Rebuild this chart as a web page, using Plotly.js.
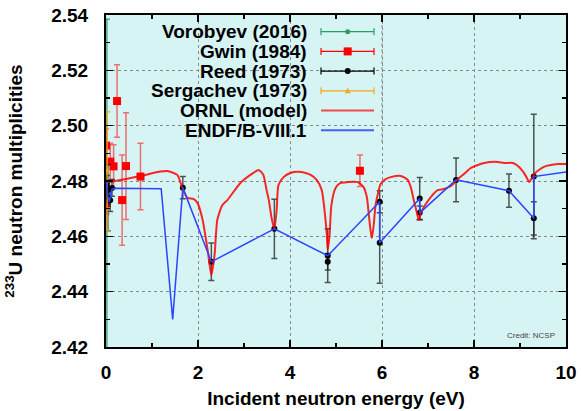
<!DOCTYPE html>
<html>
<head>
<meta charset="utf-8">
<script src="https://cdn.plot.ly/plotly-3.0.1.min.js"></script>
<style>
  html, body { margin: 0; padding: 0; background: #fff; }
  #chart { width: 581px; height: 411px; }
</style>
</head>
<body>
<div id="chart"></div>
<script>
// ORNL resonance model of nu-bar for U-233
const ornlE = [0.0, 0.20, 0.75, 1.18, 1.33, 1.55, 1.66, 1.77, 1.90, 1.99, 2.10, 2.21, 2.29, 2.36, 2.42, 2.53, 2.64, 2.92, 3.14, 3.32, 3.42, 3.49, 3.54, 3.60, 3.66, 3.71, 3.75, 3.86, 4.01, 4.17, 4.34, 4.45, 4.58, 4.69, 4.75, 4.80, 4.82, 4.86, 4.90, 4.99, 5.10, 5.25, 5.47, 5.60, 5.67, 5.71, 5.75, 5.78, 5.82, 5.86, 5.91, 5.97, 6.08, 6.19, 6.41, 6.56, 6.63, 6.69, 6.76, 6.80, 6.84, 6.91, 7.06, 7.21, 7.34, 7.50, 7.65, 7.78, 7.93, 8.22, 8.52, 8.65, 8.85, 8.98, 9.07, 9.14, 9.20, 9.26, 9.33, 9.52, 9.83, 10.0];
const ornlNu = [2.4795, 2.4800, 2.4818, 2.4834, 2.4836, 2.4822, 2.4775, 2.4739, 2.4735, 2.4720, 2.4660, 2.4550, 2.4460, 2.4533, 2.4660, 2.4713, 2.4731, 2.4793, 2.4822, 2.4840, 2.4822, 2.4768, 2.4731, 2.4666, 2.4627, 2.4695, 2.4786, 2.4814, 2.4829, 2.4833, 2.4829, 2.4822, 2.4804, 2.4767, 2.4695, 2.4605, 2.4550, 2.4605, 2.4713, 2.4775, 2.4793, 2.4796, 2.4796, 2.4778, 2.4742, 2.4684, 2.4623, 2.4594, 2.4641, 2.4713, 2.4753, 2.4789, 2.4807, 2.4814, 2.4818, 2.4804, 2.4775, 2.4731, 2.4684, 2.4659, 2.4681, 2.4706, 2.4742, 2.4767, 2.4771, 2.4782, 2.4807, 2.4825, 2.4847, 2.4865, 2.4869, 2.4865, 2.4865, 2.4851, 2.4833, 2.4814, 2.4796, 2.4811, 2.4829, 2.4851, 2.4861, 2.4861];

// ENDF/B-VIII.1 evaluation
const endfE = [0.0, 0.02, 0.04, 0.07, 0.10, 0.13, 0.20, 1.20, 1.45, 1.67, 2.29, 3.66, 4.82, 5.95, 5.95, 6.82, 6.82, 7.61, 8.76, 9.30, 9.30, 10.0];
const endfNu = [2.4800, 2.4790, 2.4745, 2.4725, 2.4745, 2.4770, 2.4774, 2.4772, 2.4300, 2.4776, 2.4508, 2.4627, 2.4530, 2.4725, 2.4577, 2.4737, 2.4685, 2.4804, 2.4765, 2.4665, 2.4816, 2.4833];

// Reed (1973)
const reedE = [0.005, 0.02, 0.04, 0.06, 0.09, 0.13, 1.67, 2.29, 3.66, 4.82, 4.82, 5.95, 5.95, 6.82, 6.82, 7.61, 8.76, 9.30, 9.30];
const reedNu = [2.4760, 2.4790, 2.4740, 2.4770, 2.4730, 2.4775, 2.4776, 2.4508, 2.4627, 2.4530, 2.4508, 2.4725, 2.4577, 2.4737, 2.4685, 2.4804, 2.4765, 2.4816, 2.4665];
const reedErr = [0.004, 0.003, 0.012, 0.003, 0.004, 0.003, 0.0040, 0.0068, 0.0107, 0.0097, 0.0030, 0.0040, 0.0147, 0.0076, 0.0025, 0.0079, 0.0060, 0.0225, 0.0060];

// Gwin (1984)
const gwinE = [0.0, 0.015, 0.094, 0.165, 0.24, 0.35, 0.435, 0.75, 5.52];
const gwinNu = [2.4928, 2.4720, 2.4870, 2.4853, 2.5089, 2.4731, 2.4854, 2.4816, 2.4837];
const gwinErr = [0.006, 0.004, 0.0066, 0.0078, 0.0131, 0.0163, 0.0193, 0.0120, 0.0057];

// Sergachev (1973)
const sergE = [0.025];
const sergNu = [2.4835];
const sergErr = [0.0215];

// Vorobyev (2016)
const voroE = [0.02];
const voroNu = [2.478];
const voroErr = [0.0605];

const legendNames = ['Vorobyev (2016)', 'Gwin (1984)', 'Reed (1973)', 'Sergachev (1973)', 'ORNL (model)', 'ENDF/B-VIII.1'];

const C_GREEN = '#2e9b62';
const C_RED = '#ff0000';
const C_BLACK = '#000000';
const C_ORANGE = '#f2a81d';
const C_BLUE = '#2a45ff';
const PLOT_BG = '#d6f4f4';

const FONT = 'Liberation Sans, Arial, Helvetica, sans-serif';

const traces = [
  {
    x: voroE, y: voroNu, type: 'scatter', mode: 'markers', name: legendNames[0],
    marker: { color: C_GREEN, size: 5, symbol: 'circle' },
    error_y: { type: 'data', array: voroErr, visible: true, color: C_GREEN, thickness: 1.2, width: 3 }
  },
  {
    x: gwinE, y: gwinNu, type: 'scatter', mode: 'markers', name: legendNames[1],
    marker: { color: C_RED, size: 8, symbol: 'square' },
    error_y: { type: 'data', array: gwinErr, visible: true, color: 'rgba(255,0,0,0.55)', thickness: 1.5, width: 3 }
  },
  {
    x: reedE, y: reedNu, type: 'scatter', mode: 'markers', name: legendNames[2],
    marker: { color: C_BLACK, size: 6, symbol: 'circle' },
    error_y: { type: 'data', array: reedErr, visible: true, color: 'rgba(30,30,30,0.75)', thickness: 1.5, width: 3 }
  },
  {
    x: sergE, y: sergNu, type: 'scatter', mode: 'markers', name: legendNames[3],
    marker: { color: C_ORANGE, size: 6, symbol: 'triangle-up' },
    error_y: { type: 'data', array: sergErr, visible: true, color: C_ORANGE, thickness: 1.2, width: 3 }
  },
  {
    x: ornlE, y: ornlNu, type: 'scatter', mode: 'lines', name: legendNames[4],
    line: { color: 'rgba(255,0,0,0.85)', width: 2, shape: 'spline', smoothing: 0.6 }
  },
  {
    x: endfE, y: endfNu, type: 'scatter', mode: 'lines', name: legendNames[5],
    line: { color: C_BLUE, width: 1.5 }
  }
];

// plot-area geometry in pixels, used to place the key
const W = 581, H = 411;
const M = { l: 106, r: 15, t: 15, b: 64 };
const pw = W - M.l - M.r, ph = H - M.t - M.b;
const px = v => (v - M.l) / pw;
const py = v => (H - M.b - v) / ph;

const shapes = [];
const annotations = [];

// opaque key box
shapes.push({ type: 'rect', xref: 'paper', yref: 'paper', layer: 'between',
  x0: px(117), x1: px(383), y0: py(142), y1: 1, fillcolor: PLOT_BG, line: { width: 0 } });
// x = 6 grid line runs through the key
shapes.push({ type: 'line', xref: 'x', yref: 'paper', layer: 'between',
  x0: 6, x1: 6, y0: py(142), y1: 1, line: { color: '#8a8a8a', width: 1, dash: 'dot' } });

const rowY = [31.7, 51.4, 71.1, 90.8, 110.5, 130.2];
const keyColors = [C_GREEN, C_RED, C_BLACK, C_ORANGE, 'rgba(255,0,0,0.7)', 'rgba(42,69,255,0.85)'];
const sx0 = 321, sx1 = 374, sxm = 347.7;

legendNames.forEach((name, i) => {
  const y = rowY[i];
  annotations.push({
    xref: 'paper', yref: 'paper', x: px(309), y: py(y), xanchor: 'right', yanchor: 'middle',
    text: name, showarrow: false,
    font: { family: FONT, size: 19, color: '#000', weight: 'bold' }
  });
  shapes.push({ type: 'line', xref: 'paper', yref: 'paper', layer: 'above',
    x0: px(sx0), x1: px(sx1), y0: py(y), y1: py(y),
    line: { color: keyColors[i], width: i >= 4 ? 2 : 1.2 } });
  if (i < 4) {
    [sx0, sx1].forEach(cx => shapes.push({ type: 'line', xref: 'paper', yref: 'paper', layer: 'above',
      x0: px(cx), x1: px(cx), y0: py(y - 3.5), y1: py(y + 3.5), line: { color: keyColors[i], width: 1.2 } }));
  }
});
// key markers
shapes.push({ type: 'circle', xref: 'paper', yref: 'paper', layer: 'above',
  x0: px(sxm - 2.5), x1: px(sxm + 2.5), y0: py(rowY[0] + 2.5), y1: py(rowY[0] - 2.5),
  fillcolor: C_GREEN, line: { width: 0 } });
shapes.push({ type: 'rect', xref: 'paper', yref: 'paper', layer: 'above',
  x0: px(sxm - 4), x1: px(sxm + 4), y0: py(rowY[1] + 4), y1: py(rowY[1] - 4),
  fillcolor: C_RED, line: { width: 0 } });
shapes.push({ type: 'circle', xref: 'paper', yref: 'paper', layer: 'above',
  x0: px(sxm - 3), x1: px(sxm + 3), y0: py(rowY[2] + 3), y1: py(rowY[2] - 3),
  fillcolor: C_BLACK, line: { width: 0 } });
(function () {
  const y = rowY[3];
  const p = `M ${px(sxm - 3)} ${py(y + 2.5)} L ${px(sxm + 3)} ${py(y + 2.5)} L ${px(sxm)} ${py(y - 3)} Z`;
  shapes.push({ type: 'path', xref: 'paper', yref: 'paper', layer: 'above', path: p,
    fillcolor: C_ORANGE, line: { width: 0 } });
})();

annotations.push({
  xref: 'paper', yref: 'paper', x: px(557), y: py(335), xanchor: 'right', yanchor: 'middle',
  text: 'Credit: NCSP', showarrow: false, font: { family: FONT, size: 8, color: '#444' }
});

const axisCommon = {
  showline: true, linecolor: '#000', linewidth: 2, mirror: 'allticks',
  ticks: 'inside', ticklen: 7, tickwidth: 1.5, tickcolor: '#000',
  showgrid: true, gridcolor: '#8a8a8a', gridwidth: 1, griddash: 'dot',
  zeroline: false,
  tickfont: { family: FONT, size: 19, color: '#000', weight: 'bold' }
};

const layout = {
  width: W, height: H,
  margin: M,
  paper_bgcolor: '#ffffff',
  plot_bgcolor: PLOT_BG,
  showlegend: false,
  xaxis: Object.assign({}, axisCommon, {
    range: [0, 10], dtick: 2, tick0: 0,
    ticklabelstandoff: 7,
    minor: { dtick: 1, ticks: 'inside', ticklen: 4, tickcolor: '#000', showgrid: false },
    title: { text: 'Incident neutron energy (eV)', standoff: 10,
      font: { family: FONT, size: 19, color: '#000', weight: 'bold' } }
  }),
  yaxis: Object.assign({}, axisCommon, {
    range: [2.42, 2.54], dtick: 0.02, tick0: 2.42, tickformat: '.2f',
    ticklabelstandoff: 12,
    minor: { dtick: 0.01, ticks: 'inside', ticklen: 4, tickcolor: '#000', showgrid: false },
    title: { text: '<sup>233</sup>U neutron multiplicities', standoff: 24,
      font: { family: FONT, size: 19, color: '#000', weight: 'bold' } }
  }),
  shapes: shapes,
  annotations: annotations
};

Plotly.newPlot('chart', traces, layout, { staticPlot: true, displayModeBar: false });
</script>
</body>
</html>
